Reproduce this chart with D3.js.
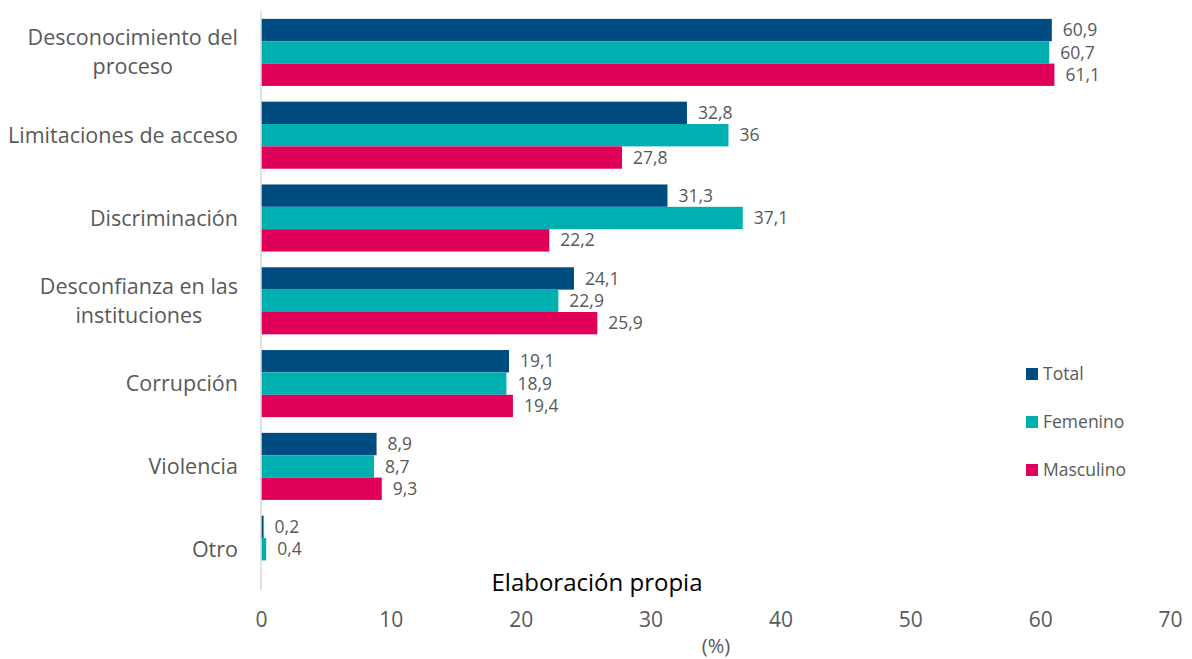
<!DOCTYPE html>
<html><head><meta charset="utf-8">
<script src="https://cdn.jsdelivr.net/npm/d3@7"></script>
<style>body{margin:0;background:#fff}svg{display:block;font-family:"Open Sans",sans-serif}</style>
</head><body><svg id="c" width="1192" height="659"></svg>
<script>
const categories = [["Desconocimiento del","proceso"],["Limitaciones de acceso"],["Discriminación"],["Desconfianza en las","instituciones"],["Corrupción"],["Violencia"],["Otro"]];
const seriesNames = ["Total","Femenino","Masculino"];
const totalValues = [60.9,32.8,31.3,24.1,19.1,8.9,0.2];
const femeninoValues = [60.7,36,37.1,22.9,18.9,8.7,0.4];
const masculinoValues = [61.1,27.8,22.2,25.9,19.4,9.3,null];
const xTicks = [0,10,20,30,40,50,60,70];
const colors = ["#004b7f","#00afaf","#e0005a"];
const allValues = [totalValues,femeninoValues,masculinoValues];

const svg = d3.select("#c");
const x = d3.scaleLinear().domain([0,70]).range([261,1170]);
const y0 = d3.scaleBand().domain(d3.range(categories.length)).range([11,590.6]).paddingInner(0.19).paddingOuter(0.095);
const y1 = d3.scaleBand().domain(d3.range(3)).range([0,y0.bandwidth()]);
const fmt = v => String(v).replace(".",",");

allValues.forEach((vals,s)=>{
  const g = svg.append("g");
  vals.forEach((v,i)=>{
    if(v==null) return;
    g.append("rect").attr("x",x(0)).attr("y",y0(i)+y1(s)).attr("width",x(v)-x(0)).attr("height",y1.bandwidth()).attr("fill",colors[s]);
    g.append("text").attr("x",x(v)+11).attr("y",y0(i)+y1(s)+y1.bandwidth()/2).attr("dy","0.35em")
      .attr("font-size",17.5).attr("fill","#595959").text(fmt(v));
  });
});

svg.append("line").attr("x1",x(0)).attr("x2",x(0)).attr("y1",11).attr("y2",590.6).attr("stroke","#d9d9d9").attr("stroke-width",1.5);

const right = 238, lh = 29;
categories.forEach((lines,i)=>{
  const cy = y0(i)+y0.bandwidth()/2;
  const t = svg.append("text").attr("font-size",21.5).attr("fill","#595959");
  const tsp = lines.map((l,k)=>t.append("tspan").attr("y",cy+(k-(lines.length-1)/2)*lh).attr("dy","0.35em").text(l));
  const widths = tsp.map(s=>s.node().getComputedTextLength());
  const mw = d3.max(widths);
  t.attr("text-anchor","middle");
  tsp.forEach(s=>s.attr("x",right-mw/2));
});

const xa = svg.append("g").attr("transform","translate(0,620)").call(d3.axisBottom(x).tickValues(xTicks).tickSize(0).tickPadding(0));
xa.select(".domain").remove();
xa.selectAll("text").attr("font-size",21).attr("fill","#595959").attr("font-family","'Open Sans',sans-serif").attr("dy","0.35em");

svg.append("text").attr("x",716).attr("y",646).attr("text-anchor","middle").attr("dy","0.35em").attr("font-size",20).attr("fill","#595959").text("(%)");
svg.append("text").attr("x",597).attr("y",583).attr("text-anchor","middle").attr("dy","0.35em").attr("font-size",24).attr("fill","#000").text("Elaboración propia");

seriesNames.forEach((n,i)=>{
  const ly = 374+i*48;
  svg.append("rect").attr("x",1026).attr("y",ly-6).attr("width",12).attr("height",12).attr("fill",colors[i]);
  svg.append("text").attr("x",1043).attr("y",ly).attr("dy","0.35em").attr("font-size",17.5).attr("fill","#595959").text(n);
});
</script></body></html>
